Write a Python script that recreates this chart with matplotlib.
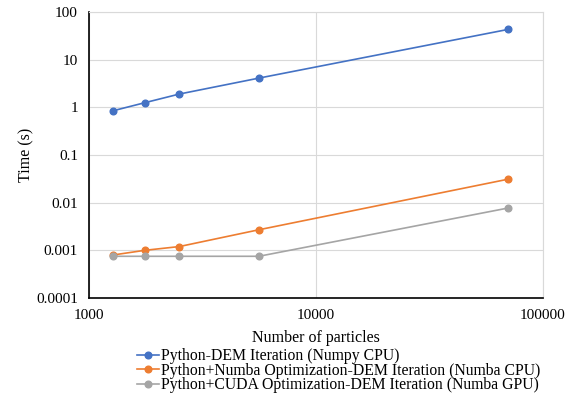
import matplotlib.pyplot as plt

# Data
particles = [1280, 1760, 2500, 5600, 70000]
t_numpy_cpu = [0.85, 1.25, 1.9, 4.1, 43]
t_numba_cpu = [0.0008, 0.001, 0.0012, 0.0027, 0.031]
t_numba_gpu = [0.00075, 0.00075, 0.00075, 0.00075, 0.0077]

labels = ["Python-DEM Iteration (Numpy CPU)",
          "Python+Numba Optimization-DEM Iteration (Numba CPU)",
          "Python+CUDA Optimization-DEM Iteration (Numba GPU)"]
colors = ["#4472C4", "#ED7D31", "#A5A5A5"]

plt.rcParams['font.family'] = ['Liberation Serif', 'DejaVu Serif']

fig = plt.figure(figsize=(5.72, 3.96), dpi=100)
ax = fig.add_axes([89/572, 1 - 298/396, (543-89)/572, (298-12)/396])

for y, lab, c in zip([t_numpy_cpu, t_numba_cpu, t_numba_gpu], labels, colors):
    ax.plot(particles, y, color=c, marker='o', markersize=4.8, linewidth=1.2, label=lab)

ax.set_xscale('log')
ax.set_yscale('log')
ax.set_xlim(1000, 100000)
ax.set_ylim(0.0001, 100)
ax.set_xticks([1000, 10000, 100000])
ax.set_xticklabels(["1000", "10000", "100000"])
ax.set_yticks([0.0001, 0.001, 0.01, 0.1, 1, 10, 100])
ax.set_yticklabels(["0.0001", "0.001", "0.01", "0.1", "1", "10", "100"])
ax.minorticks_off()
ax.tick_params(length=0, labelsize=11, pad=8)
ax.grid(True, color="#d9d9d9", linewidth=0.8)
ax.set_axisbelow(True)
for s in ['top', 'right']:
    ax.spines[s].set_color("#d9d9d9")
    ax.spines[s].set_linewidth(0.8)
for s in ['left', 'bottom']:
    ax.spines[s].set_color("black")
    ax.spines[s].set_linewidth(1.2)

ax.set_xlabel("Number of particles", fontsize=11.5, labelpad=6)
ax.set_ylabel("Time (s)", fontsize=11.5, labelpad=1)

ax.legend(loc='upper left', bbox_to_anchor=(137/572, 1 - 348/396),
          bbox_transform=fig.transFigure, frameon=False, fontsize=11.3,
          handlelength=1.4, handletextpad=0.1, labelspacing=-0.08,
          borderpad=0, borderaxespad=0)

fig.savefig("out.png", dpi=100)
